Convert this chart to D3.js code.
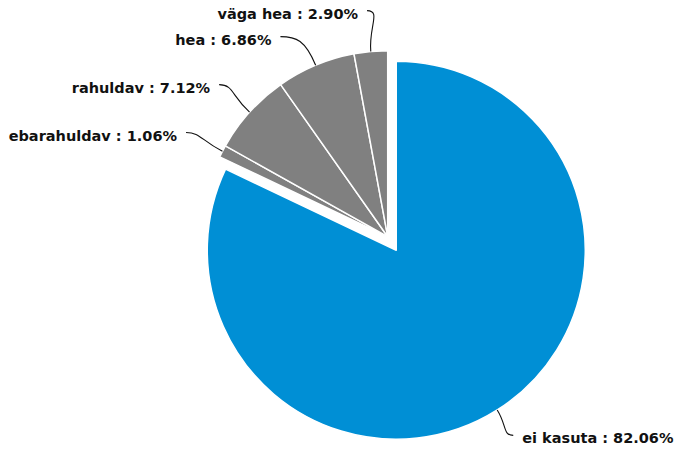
<!DOCTYPE html>
<html><head><meta charset="utf-8">
<script src="https://cdn.jsdelivr.net/npm/d3@7"></script>
<style>body{margin:0;background:#fff}svg{display:block}</style>
</head><body>
<svg id="c" width="674" height="454"></svg>
<script>
const categories = ["ei kasuta", "ebarahuldav", "rahuldav", "hea", "väga hea"];
const values = [82.06, 1.06, 7.12, 6.86, 2.90];
const labels = ["ei kasuta : 82.06%", "ebarahuldav : 1.06%", "rahuldav : 7.12%", "hea : 6.86%", "väga hea : 2.90%"];
const colors = ["#008fd5", "#808080", "#808080", "#808080", "#808080"];

const svg = d3.select("#c");
const cx = 387.7, cy = 236.7, pull = 16, labelR = 227, minGap = 26;

const pie = d3.pie().sort(null).value(d => d)(values);
const arc = d3.arc().innerRadius(0).outerRadius((d) => d.index === 0 ? 189 : 186);

const items = pie.map((d, i) => {
  const mid = (d.startAngle + d.endAngle) / 2;
  const off = i === 0 ? pull : 0;
  const ox = cx + Math.sin(mid) * off, oy = cy - Math.cos(mid) * off;
  const rr = i === 0 ? 189 : 186;
  return {d, i, mid, ox, oy,
    ex: ox + Math.sin(mid) * rr, ey: oy - Math.cos(mid) * rr,
    side: Math.sin(mid) >= 0 ? 1 : -1,
    lr: i === 0 ? labelR - 8 : labelR};
});

items.forEach(it => { it.ly = it.oy - Math.cos(it.mid) * it.lr; });
[-1, 1].forEach(s => {
  const g = items.filter(it => it.side === s).sort((a, b) => a.ly - b.ly);
  for (let k = 1; k < g.length; k++) if (g[k].ly - g[k-1].ly < minGap) g[k].ly = g[k-1].ly + minGap;
});
items.forEach(it => {
  const dy = Math.max(-it.lr, Math.min(it.lr, it.ly - it.oy));
  it.lx = it.ox + it.side * Math.sqrt(it.lr * it.lr - dy * dy);
});

const gS = svg.append("g");
gS.selectAll("path").data(items).join("path")
  .attr("transform", it => `translate(${it.ox},${it.oy})`)
  .attr("d", it => arc(it.d))
  .attr("fill", it => colors[it.i])
  .attr("stroke", "#fff").attr("stroke-width", 1.5).attr("stroke-linejoin", "round");

svg.append("g").selectAll("path").data(items).join("path")
  .attr("fill", "none").attr("stroke", "#111").attr("stroke-width", 1.1)
  .attr("d", it => {
    const dist = Math.hypot(it.lx - it.ex, it.ly - it.ey);
    const c1x = it.ex + Math.sin(it.mid) * dist * 0.6, c1y = it.ey - Math.cos(it.mid) * dist * 0.6;
    const c2x = it.lx - it.side * dist * 0.35, c2y = it.ly;
    return `M${it.ex},${it.ey}C${c1x},${c1y} ${c2x},${c2y} ${it.lx},${it.ly}`;
  });

svg.append("g").selectAll("text").data(items).join("text")
  .attr("x", it => it.lx + it.side * 9)
  .attr("y", it => it.ly + 8)
  .attr("text-anchor", it => it.side > 0 ? "start" : "end")
  .attr("font-family", "'DejaVu Sans', Verdana, sans-serif")
  .attr("font-weight", "bold").attr("font-size", 14.5).attr("fill", "#111")
  .text(it => labels[it.i]);
</script>
</body></html>
